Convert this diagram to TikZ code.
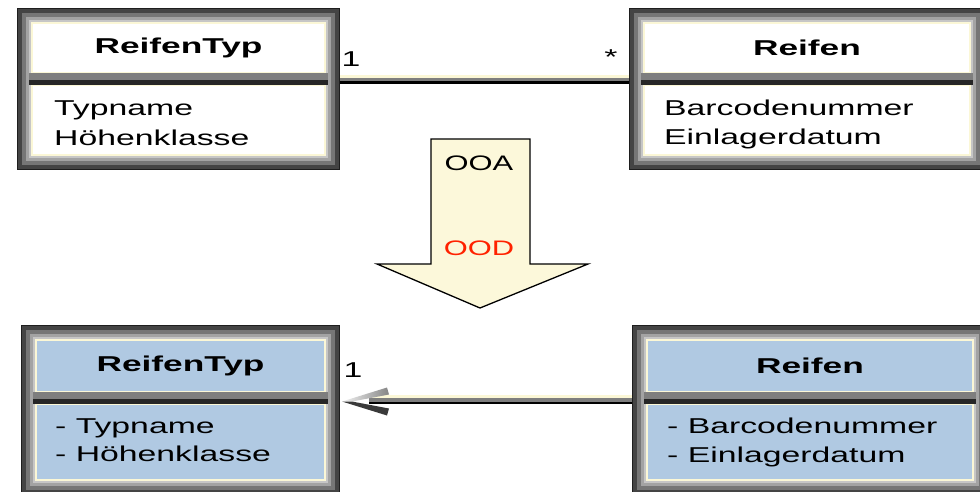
\documentclass[tikz,border=0pt]{standalone}
\usepackage{fontspec}
\usetikzlibrary{positioning,calc}

\newfontfamily\classfont[FakeStretch=1.57]{Liberation Sans}
\newfontfamily\titlefont[FakeStretch=1.64]{Liberation Sans}
\newfontfamily\phasefont[FakeStretch=1.47]{Liberation Sans}

\definecolor{bevelA}{HTML}{1E1E1E}
\definecolor{bevelB}{HTML}{444444}
\definecolor{bevelC}{HTML}{767676}
\definecolor{bevelD}{HTML}{A3A3A3}
\definecolor{bevelE}{HTML}{C6C6C6}
\definecolor{cream}{HTML}{FBF7D6}
\definecolor{designblue}{HTML}{B0C9E2}
\definecolor{phasefill}{HTML}{FCF8DA}
\definecolor{oodred}{HTML}{FF2200}
\definecolor{sepgray}{HTML}{7E7E7E}
\definecolor{sepdark}{HTML}{262626}
\definecolor{barbgray}{HTML}{858585}
\definecolor{barbdark}{HTML}{3A3A3A}

\tikzset{
  classframe/.style={inner sep=0pt, outer sep=0pt, path picture={
      \foreach \d/\c in {0/bevelA,1/bevelB,5/bevelC,9/bevelD,12/bevelE}
        \fill[\c] ([shift={(\d pt,\d pt)}]path picture bounding box.south west)
          rectangle ([shift={(-\d pt,-\d pt)}]path picture bounding box.north east);
    }},
  compartment/.style={draw=cream, line width=1.2pt, fill=white, inner sep=0pt, outer sep=0pt},
  classname/.style={compartment, font=\titlefont\bfseries\fontsize{21.5}{26}\selectfont},
  attrlist/.style={inner sep=0pt, align=left, font=\classfont\fontsize{21.5}{28.5}\selectfont},
  mult/.style={inner sep=0pt, anchor=base, font=\classfont\fontsize{21.5}{26}\selectfont},
  assoc/.style={draw=sepgray, line width=4pt,
    preaction={draw=cream, line width=3pt, transform canvas={yshift=3.5pt}},
    postaction={draw=black, line width=2.5pt, transform canvas={yshift=-3.2pt}}},
  phase/.style={draw=black, line width=1.3pt, fill=phasefill, line join=miter},
  phaselabel/.style={inner sep=0pt, font=\phasefont\fontsize{21}{25}\selectfont},
}

\begin{document}
\begin{tikzpicture}[x=1pt, y=-1pt]
  \useasboundingbox (0,0) rectangle (980,491);
  \clip (0,0) rectangle (980,491);

  % analysis model
  \node[classframe, minimum width=323pt, minimum height=162pt] (ooaTyp) at (178.5,89) {};
  \node[classname, minimum width=293pt, minimum height=50pt, below=15pt of ooaTyp.north] (ooaTyp-name) {ReifenTyp};
  \node[compartment, minimum width=293pt, minimum height=70pt, above=15pt of ooaTyp.south] (ooaTyp-attr) {};
  \node[attrlist, below right=16pt and 22pt of ooaTyp-attr.north west, font=\classfont\fontsize{21.5}{29.5}\selectfont] (ooaTyp-list) {Typname\\Höhenklasse};
  \fill[sepgray] ([xshift=-3pt]ooaTyp-name.south west) rectangle ([xshift=3pt]ooaTyp-attr.north east);
  \fill[sepdark] ([xshift=-3pt,yshift=5pt]ooaTyp-attr.north west) rectangle ([xshift=3pt]ooaTyp-attr.north east);

  \node[classframe, minimum width=356pt, minimum height=162pt] (ooaReifen) at (807,89) {};
  \node[classname, minimum width=326pt, minimum height=50pt, below=15pt of ooaReifen.north] (ooaReifen-name) {Reifen};
  \node[compartment, minimum width=326pt, minimum height=70pt, above=15pt of ooaReifen.south] (ooaReifen-attr) {};
  \node[attrlist, below right=15pt and 20pt of ooaReifen-attr.north west] (ooaReifen-list) {Barcodenummer\\Einlagerdatum};
  \fill[sepgray] ([xshift=-3pt]ooaReifen-name.south west) rectangle ([xshift=3pt]ooaReifen-attr.north east);
  \fill[sepdark] ([xshift=-3pt,yshift=5pt]ooaReifen-attr.north west) rectangle ([xshift=3pt]ooaReifen-attr.north east);

  \coordinate (ooaLink) at ([yshift=-6.5pt]ooaTyp-name.south);
  \draw[assoc] (ooaLink -| ooaTyp.east) -- (ooaLink -| ooaReifen.west);
  \node[mult] (ooaTyp-mult) at (351,66.5) {1};
  \node[mult] (ooaReifen-mult) at (611,64) {*};

  % OOA -> OOD
  \draw[phase] (431,139) -- (530,139) -- (530,264) -- (588,264) -- (480,308)
    -- (377,264) -- (431,264) -- cycle;
  \node[phaselabel] (ooa) at (479,163) {OOA};
  \node[phaselabel, text=oodred] (ood) at (479,248) {OOD};

  % design model
  \node[classframe, minimum width=319pt, minimum height=170pt] (oodTyp) at (180.5,410) {};
  \node[classname, fill=designblue, minimum width=289pt, minimum height=52pt, below=15pt of oodTyp.north] (oodTyp-name) {ReifenTyp};
  \node[compartment, fill=designblue, minimum width=289pt, minimum height=76pt, above=15pt of oodTyp.south] (oodTyp-attr) {};
  \node[attrlist, below right=14pt and 19pt of oodTyp-attr.north west] (oodTyp-list) {- Typname\\- Höhenklasse};
  \fill[sepgray] ([xshift=-3pt]oodTyp-name.south west) rectangle ([xshift=3pt]oodTyp-attr.north east);
  \fill[sepdark] ([xshift=-3pt,yshift=5pt]oodTyp-attr.north west) rectangle ([xshift=3pt]oodTyp-attr.north east);

  \node[classframe, minimum width=356pt, minimum height=170pt] (oodReifen) at (810,410) {};
  \node[classname, fill=designblue, minimum width=326pt, minimum height=52pt, below=15pt of oodReifen.north] (oodReifen-name) {Reifen};
  \node[compartment, fill=designblue, minimum width=326pt, minimum height=76pt, above=15pt of oodReifen.south] (oodReifen-attr) {};
  \node[attrlist, below right=14pt and 20pt of oodReifen-attr.north west] (oodReifen-list) {- Barcodenummer\\- Einlagerdatum};
  \fill[sepgray] ([xshift=-3pt]oodReifen-name.south west) rectangle ([xshift=3pt]oodReifen-attr.north east);
  \fill[sepdark] ([xshift=-3pt,yshift=5pt]oodReifen-attr.north west) rectangle ([xshift=3pt]oodReifen-attr.north east);

  % navigable association with open arrow head
  \coordinate (oodLink) at ([yshift=-8pt]oodTyp-name.south);
  \coordinate (oodTip) at ($(oodLink -| oodTyp.east)+(2,1.5)$);
  \draw[assoc, shorten >=29pt] (oodLink -| oodReifen.west) -- (oodLink -| oodTyp.east);
  \shade[left color=white!90!barbgray, right color=barbgray]
    (oodTip) -- ++(45,-14) -- ++(2,7) -- ++(-37,7) -- cycle;
  \fill[barbdark] (oodTip) -- ++(10,0) -- ++(37,7) -- ++(-2,7) -- cycle;
  \node[mult] (oodTyp-mult) at (353,377) {1};
\end{tikzpicture}
\end{document}
